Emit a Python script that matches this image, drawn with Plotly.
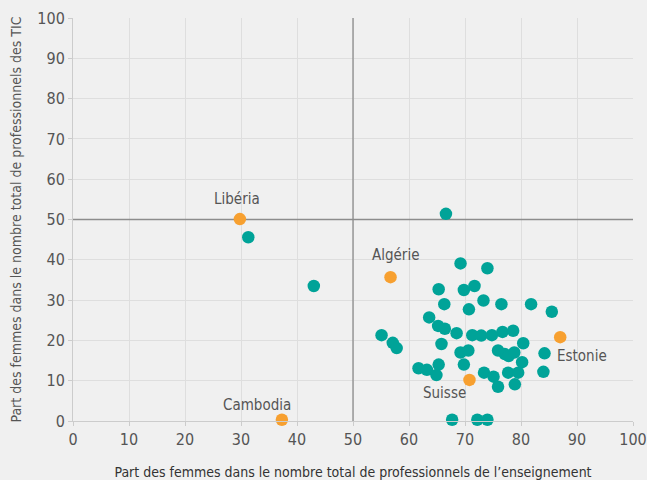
import plotly.graph_objects as go

# Teal points (other countries)
teal_x = [31.3, 43.0, 66.6, 69.2, 74.0, 65.3, 69.8, 71.7, 66.3, 70.7, 73.3, 76.5, 81.8, 85.5,
          63.6, 65.2, 66.4, 55.1, 68.5, 71.3, 72.9, 74.8, 76.7, 78.6, 57.1, 57.8, 65.8, 80.4,
          69.2, 70.6, 75.9, 77.1, 77.8, 78.8, 84.2, 80.2, 61.7, 63.2, 65.3, 64.9, 69.8, 73.4,
          75.1, 75.9, 77.7, 79.5, 78.9, 84.0, 67.7, 72.2, 74.0]
teal_y = [45.6, 33.5, 51.4, 39.1, 37.9, 32.7, 32.5, 33.5, 29.0, 27.7, 29.9, 29.0, 29.0, 27.1,
          25.7, 23.6, 22.9, 21.3, 21.8, 21.3, 21.2, 21.3, 22.1, 22.4, 19.4, 18.1, 19.1, 19.3,
          17.0, 17.5, 17.5, 16.6, 16.1, 17.0, 16.8, 14.6, 13.1, 12.7, 14.0, 11.4, 14.0, 12.0,
          11.0, 8.5, 12.0, 12.0, 9.1, 12.2, 0.3, 0.3, 0.3]

# Highlighted countries
hl_names = ["Libéria", "Algérie", "Estonie", "Suisse", "Cambodia"]
hl_x = [29.8, 56.7, 87.0, 70.8, 37.3]
hl_y = [50.1, 35.7, 20.8, 10.2, 0.3]

ticks = [0, 10, 20, 30, 40, 50, 60, 70, 80, 90, 100]

FONT = "Liberation Sans Narrow, DejaVu Sans Condensed, Arial Narrow, sans-serif"
TXT = "#555555"
BG = "#f0f0f0"
GRID = "#dedede"

fig = go.Figure()
fig.add_trace(go.Scatter(x=teal_x, y=teal_y, mode="markers",
                         marker=dict(color="#00a398", size=12.5, line=dict(width=0)),
                         showlegend=False, cliponaxis=False))
fig.add_trace(go.Scatter(x=hl_x, y=hl_y, mode="markers",
                         marker=dict(color="#f7a030", size=12.5, line=dict(width=0)),
                         showlegend=False, cliponaxis=False))

# reference lines at 50%
fig.add_shape(type="line", x0=50, x1=50, y0=0, y1=100, xref="x", yref="y",
              line=dict(color="#8c8c8c", width=1.3), layer="between")
fig.add_shape(type="line", x0=0, x1=100, y0=50, y1=50, xref="x", yref="y",
              line=dict(color="#8c8c8c", width=1.3), layer="between")

# labels
offsets = {
    "Libéria": (-3, 20),
    "Algérie": (5, 22),
    "Estonie": (22, -19),
    "Suisse": (-25, -13),
    "Cambodia": (-25, 15),
}
for n, xv, yv in zip(hl_names, hl_x, hl_y):
    dx, dy = offsets[n]
    fig.add_annotation(x=xv, y=yv, text=n, showarrow=False, xshift=dx, yshift=dy,
                       font=dict(family=FONT, size=15, color=TXT))

axis_common = dict(range=[0, 100], tickvals=ticks, showgrid=True, gridcolor=GRID, gridwidth=1,
                   zeroline=False, showline=True, linecolor="#cccccc", linewidth=1,
                   ticks="outside", ticklen=4, tickcolor="#cccccc", automargin=False,
                   tickfont=dict(family=FONT, size=16, color=TXT))

fig.update_layout(
    width=647, height=480,
    margin=dict(l=73, r=14, t=18, b=59),
    paper_bgcolor=BG, plot_bgcolor=BG,
    font=dict(family=FONT, color=TXT),
    xaxis=dict(**axis_common,
               title=dict(text="Part des femmes dans le nombre total de professionnels de l’enseignement",
                          font=dict(family=FONT, size=14, color="#333333"), standoff=20)),
    yaxis=dict(**axis_common,
               title=dict(text="Part des femmes dans le nombre total de professionnels des TIC",
                          font=dict(family=FONT, size=14, color=TXT), standoff=12)),
)

fig.write_html("out.html", post_script="document.body.style.margin='0';",
               config={"displayModeBar": False})
